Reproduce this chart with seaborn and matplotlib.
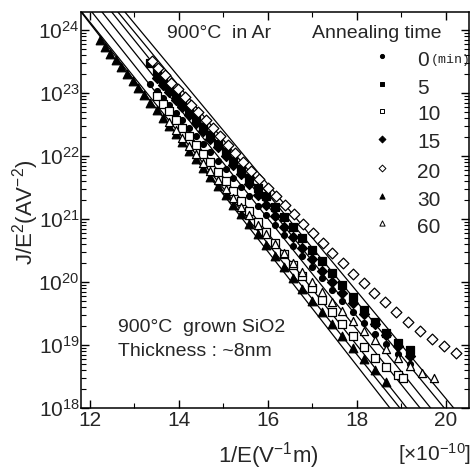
import numpy as np
import pandas as pd
import matplotlib
matplotlib.use("Agg")
import matplotlib.pyplot as plt
import seaborn as sns

# ---------------- data: Fowler-Nordheim plot, log10(J/E^2) vs 1/E (x1e-10) ----------------
anneal_times = ["0", "5", "10", "15", "20", "30", "60"]

x_0 = [13.36, 13.50, 13.64, 13.78, 13.93, 14.08, 14.23, 14.39, 14.55, 14.71, 14.88, 15.05,
       15.22, 15.40, 15.58, 15.77, 15.96, 16.16, 16.36, 16.56, 16.77, 16.99, 17.21, 17.44,
       17.67, 17.91, 18.15, 18.40, 18.66, 18.92, 19.19]
logj_0 = [23.15, 23.04, 22.93, 22.81, 22.69, 22.57, 22.45, 22.32, 22.19, 22.06, 21.92, 21.79,
          21.65, 21.51, 21.36, 21.21, 21.06, 20.90, 20.74, 20.58, 20.41, 20.24, 20.06, 19.88,
          19.70, 19.52, 19.35, 19.18, 19.01, 18.85, 18.70]

x_5 = [13.36, 13.50, 13.64, 13.78, 13.93, 14.08, 14.23, 14.39, 14.55, 14.71, 14.88, 15.05,
       15.22, 15.40, 15.58, 15.77, 15.96, 16.16, 16.36, 16.56, 16.77, 16.99, 17.21, 17.44,
       17.67, 17.91, 18.15, 18.40, 18.66, 18.92, 19.19]
logj_5 = [23.48, 23.36, 23.24, 23.12, 22.99, 22.87, 22.74, 22.61, 22.47, 22.34, 22.20, 22.07,
          21.93, 21.79, 21.65, 21.50, 21.36, 21.20, 21.04, 20.87, 20.70, 20.51, 20.33, 20.14,
          19.95, 19.76, 19.56, 19.36, 19.19, 19.04, 18.92]

x_10 = [13.50, 13.64, 13.78, 13.93, 14.08, 14.23, 14.39, 14.55, 14.71, 14.88, 15.05, 15.22,
        15.40, 15.58, 15.77, 15.96, 16.16, 16.36, 16.56, 16.77, 16.99, 17.21, 17.44, 17.67,
        17.91, 18.15, 18.40, 18.66, 18.92, 19.04]
logj_10 = [22.95, 22.83, 22.71, 22.58, 22.45, 22.32, 22.18, 22.04, 21.90, 21.75, 21.60, 21.45,
           21.29, 21.13, 20.96, 20.80, 20.62, 20.45, 20.27, 20.09, 19.90, 19.71, 19.52, 19.33,
           19.15, 18.97, 18.80, 18.65, 18.52, 18.47]

x_15 = [13.50, 13.64, 13.78, 13.93, 14.08, 14.23, 14.39, 14.55, 14.71, 14.88, 15.05, 15.22,
        15.40, 15.58, 15.77, 15.96, 16.16, 16.36, 16.56, 16.77, 16.99, 17.21, 17.44, 17.67,
        17.91, 18.15, 18.40, 18.66, 18.92, 19.19]
logj_15 = [23.24, 23.13, 23.02, 22.90, 22.78, 22.66, 22.53, 22.40, 22.27, 22.14, 22.00, 21.86,
           21.71, 21.56, 21.39, 21.22, 21.05, 20.88, 20.71, 20.54, 20.36, 20.18, 20.00, 19.83,
           19.66, 19.50, 19.33, 19.16, 18.99, 18.82]

x_20 = [13.40, 13.54, 13.68, 13.83, 13.98, 14.13, 14.28, 14.44, 14.60, 14.76, 14.93, 15.10,
        15.27, 15.45, 15.63, 15.81, 16.00, 16.19, 16.39, 16.59, 16.80, 17.01, 17.23, 17.45,
        17.68, 17.91, 18.15, 18.39, 18.64, 18.89, 19.15, 19.41, 19.68, 19.95, 20.22]
logj_20 = [23.51, 23.40, 23.29, 23.17, 23.06, 22.94, 22.82, 22.70, 22.57, 22.45, 22.32, 22.18,
           22.05, 21.91, 21.77, 21.64, 21.50, 21.37, 21.22, 21.08, 20.93, 20.78, 20.62, 20.46,
           20.30, 20.13, 19.98, 19.83, 19.68, 19.53, 19.37, 19.22, 19.10, 18.99, 18.88]

x_30 = [12.22, 12.34, 12.46, 12.58, 12.70, 12.83, 12.96, 13.09, 13.22, 13.36, 13.50, 13.64,
        13.78, 13.93, 14.08, 14.23, 14.39, 14.55, 14.71, 14.88, 15.05, 15.22, 15.40, 15.58,
        15.77, 15.96, 16.16, 16.36, 16.56, 16.77, 16.99, 17.21, 17.44, 17.67, 17.91, 18.15,
        18.40, 18.66]
logj_30 = [23.84, 23.74, 23.63, 23.53, 23.42, 23.31, 23.20, 23.08, 22.97, 22.85, 22.73, 22.61,
           22.48, 22.35, 22.22, 22.09, 21.95, 21.81, 21.67, 21.53, 21.38, 21.23, 21.08, 20.92,
           20.76, 20.59, 20.42, 20.24, 20.07, 19.89, 19.70, 19.52, 19.33, 19.15, 18.96, 18.78,
           18.60, 18.42]

x_60 = [13.78, 13.93, 14.08, 14.23, 14.39, 14.55, 14.71, 14.88, 15.05, 15.22, 15.40, 15.58,
        15.77, 15.96, 16.16, 16.36, 16.56, 16.77, 16.99, 17.21, 17.44, 17.67, 17.91, 18.15,
        18.40, 18.66, 18.92, 19.19, 19.46, 19.74]
logj_60 = [22.55, 22.42, 22.29, 22.16, 22.03, 21.89, 21.76, 21.62, 21.48, 21.34, 21.20, 21.06,
           20.91, 20.76, 20.61, 20.46, 20.31, 20.16, 20.00, 19.85, 19.69, 19.54, 19.38, 19.23,
           19.08, 18.93, 18.79, 18.66, 18.56, 18.48]

# straight-line FN fits: log10(J/E^2) at 1/E = 12 and at 1/E = 20
fit_log_at_12 = [24.53, 24.83, 24.33, 24.72, 24.96, 24.11, 24.13]
fit_log_at_20 = [17.49, 17.97, 17.22, 17.70, 18.15, 16.86, 17.09]

x_ticks = [12, 14, 16, 18, 20]
x_minor_ticks = [13, 15, 17, 19]
y_decades = [18, 19, 20, 21, 22, 23, 24]

# ---------------- assemble ----------------
series_x = [x_0, x_5, x_10, x_15, x_20, x_30, x_60]
series_logj = [logj_0, logj_5, logj_10, logj_15, logj_20, logj_30, logj_60]
frames = []
for t, xs, ls in zip(anneal_times, series_x, series_logj):
    frames.append(pd.DataFrame({"inv_E": xs, "J_E2": np.power(10.0, ls), "time": t}))
df = pd.concat(frames, ignore_index=True)

marker_style = {
    "0": dict(marker="o", face="black", s=18),
    "5": dict(marker="s", face="black", s=28),
    "10": dict(marker="s", face="white", s=30),
    "15": dict(marker="D", face="black", s=26),
    "20": dict(marker="D", face="white", s=30),
    "30": dict(marker="^", face="black", s=38),
    "60": dict(marker="^", face="white", s=34),
}
legend_size = {"0": 9, "5": 12, "10": 12, "15": 12, "20": 12, "30": 14, "60": 14}

sns.set_theme(style="ticks")
plt.rcParams["font.family"] = ["Liberation Sans", "DejaVu Sans"]
plt.rcParams["mathtext.fontset"] = "custom"
plt.rcParams["mathtext.rm"] = "Liberation Sans"
plt.rcParams["mathtext.it"] = "Liberation Sans:italic"
plt.rcParams["mathtext.bf"] = "Liberation Sans:bold"

W, H = 472, 475
fig = plt.figure(figsize=(W / 100, H / 100), dpi=100)
ax_l, ax_t, ax_r, ax_b = 81, 12, 469, 408
ax = fig.add_axes([ax_l / W, 1 - ax_b / H, (ax_r - ax_l) / W, (ax_b - ax_t) / H])

ax.set_yscale("log")
ax.set_xlim(11.8, 20.52)
ax.set_ylim(1e18, 10 ** 24.29)

# fit lines
line_x = np.array([11.0, 21.5])
for a, b in zip(fit_log_at_12, fit_log_at_20):
    ly = a + (b - a) * (line_x - 12.0) / 8.0
    sns.lineplot(x=line_x, y=np.power(10.0, ly), ax=ax, color="black", lw=0.9,
                 zorder=2, legend=False)

# measured points
for t in anneal_times:
    st = marker_style[t]
    sub = df[df["time"] == t]
    sns.scatterplot(data=sub, x="inv_E", y="J_E2", ax=ax, marker=st["marker"],
                    color=st["face"], edgecolor="black", linewidth=0.9, s=st["s"],
                    zorder=3, legend=False)

# axes styling
for sp in ax.spines.values():
    sp.set_linewidth(1.1)
    sp.set_color("black")
    sp.set_visible(True)
ax.set_xticks(x_ticks)
ax.set_xticklabels([str(v) for v in x_ticks])
ax.set_xticks(x_minor_ticks, minor=True)
major_y = [10.0 ** d for d in y_decades]
minor_y = [m * 10.0 ** d for d in y_decades for m in range(2, 10) if m * 10.0 ** d < 10 ** 24.29]
ax.yaxis.set_major_locator(matplotlib.ticker.FixedLocator(major_y))
ax.yaxis.set_minor_locator(matplotlib.ticker.FixedLocator(minor_y))
ax.yaxis.set_major_formatter(matplotlib.ticker.FixedFormatter(
    [r"10$^{%d}$" % d for d in y_decades]))
ax.yaxis.set_minor_formatter(matplotlib.ticker.NullFormatter())
ax.tick_params(which="both", direction="in", top=True, right=True, color="black")
ax.tick_params(which="major", length=6, width=1.0, labelsize=15, pad=2)
ax.tick_params(which="minor", length=3.5, width=0.8)
ax.tick_params(axis="y", which="major", pad=1)

ax.set_xlabel(r"1/E(V$^{-1}$m)", fontsize=16)
ax.set_ylabel(r"J/E$^{2}$(AV$^{-2}$)", fontsize=16)
ax.xaxis.set_label_coords((268 - ax_l) / (ax_r - ax_l), (ax_b - 456) / (ax_b - ax_t))
ax.yaxis.set_label_coords((26 - ax_l) / (ax_r - ax_l), (ax_b - 212) / (ax_b - ax_t))
ax.xaxis.label.set_va("center")
ax.yaxis.label.set_va("center")

def fx(px):
    return (px - ax_l) / (ax_r - ax_l)

def fy(py):
    return (ax_b - py) / (ax_b - ax_t)

fig.text(398 / W, 1 - 454 / H, "[×10$^{-10}$]", fontsize=15, va="center", ha="left")

ax.text(fx(167), fy(33), "900°C  in Ar", transform=ax.transAxes, fontsize=14,
        va="center", ha="left")
ax.text(fx(312), fy(33), "Annealing time", transform=ax.transAxes, fontsize=14,
        va="center", ha="left")
ax.text(fx(118), fy(327), "900°C  grown SiO2", transform=ax.transAxes, fontsize=14,
        va="center", ha="left")
ax.text(fx(118), fy(352), "Thickness : ~8nm", transform=ax.transAxes, fontsize=14,
        va="center", ha="left")

# legend column
legend_rows = [60, 88, 115, 143, 172, 200, 227]
for t, py in zip(anneal_times, legend_rows):
    st = marker_style[t]
    ax.scatter([fx(382)], [fy(py - 4)], transform=ax.transAxes, marker=st["marker"],
               facecolor=st["face"], edgecolor="black", linewidth=0.7, s=legend_size[t],
               zorder=4, clip_on=False)
    ax.text(fx(417), fy(py), t, transform=ax.transAxes, fontsize=15, va="center", ha="left")
ax.text(fx(431), fy(60), "(min)", transform=ax.transAxes, fontsize=9.5,
        family=["Liberation Mono", "DejaVu Sans Mono"], va="center", ha="left")

fig.savefig("out.png", dpi=100)
